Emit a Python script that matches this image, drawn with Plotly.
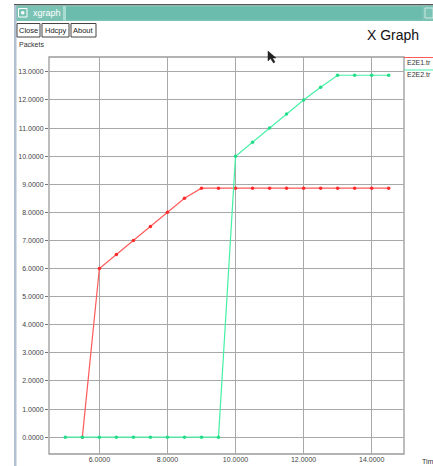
import plotly.graph_objects as go

# Data
e2e1_time = [5.5, 6.0, 6.5, 7.0, 7.5, 8.0, 8.5, 9.0, 9.5, 10.0, 10.5, 11.0, 11.5, 12.0, 12.5, 13.0, 13.5, 14.0, 14.5]
e2e1_packets = [0.0, 6.0, 6.5, 7.0, 7.5, 8.0, 8.5, 8.86, 8.86, 8.86, 8.86, 8.86, 8.86, 8.86, 8.86, 8.86, 8.86, 8.86, 8.86]
e2e2_time = [5.0, 5.5, 6.0, 6.5, 7.0, 7.5, 8.0, 8.5, 9.0, 9.5, 10.0, 10.5, 11.0, 11.5, 12.0, 12.5, 13.0, 13.5, 14.0, 14.5]
e2e2_packets = [0.0, 0.0, 0.0, 0.0, 0.0, 0.0, 0.0, 0.0, 0.0, 0.0, 10.0, 10.5, 11.0, 11.5, 12.0, 12.45, 12.88, 12.88, 12.88, 12.88]
x_ticks = [6, 8, 10, 12, 14]
y_ticks = list(range(0, 14))
series_names = ["E2E1.tr", "E2E2.tr"]

W, H = 433, 466
L, R, T, B = 49, 404, 57, 454


def px(x):
    return (x - L) / (R - L)


def py(y):
    return (B - y) / (B - T)


RED = "#ff5a5a"
GREEN = "#45f0a5"
FONT = "Liberation Sans, Arial, sans-serif"

fig = go.Figure()
fig.add_trace(go.Scatter(x=e2e1_time, y=e2e1_packets, mode="lines+markers", name=series_names[0],
                         line=dict(color=RED, width=1.2), marker=dict(color="#ff2a2a", size=3.5)))
fig.add_trace(go.Scatter(x=e2e2_time, y=e2e2_packets, mode="lines+markers", name=series_names[1],
                         line=dict(color=GREEN, width=1.2), marker=dict(color="#22dd88", size=3.5)))

shapes = []
# window title bar
shapes.append(dict(type="rect", xref="paper", yref="paper", x0=px(14), x1=px(440), y0=py(4), y1=py(5.5),
                   fillcolor="#555555", line=dict(width=0), layer="above"))
shapes.append(dict(type="rect", xref="paper", yref="paper", x0=px(15), x1=px(440), y0=py(5.5), y1=py(21),
                   fillcolor="#79c2b4", line=dict(width=0), layer="above"))
shapes.append(dict(type="rect", xref="paper", yref="paper", x0=px(63), x1=px(66), y0=py(6), y1=py(20.5),
                   fillcolor="#a9ddd2", line=dict(width=0), layer="above"))
shapes.append(dict(type="rect", xref="paper", yref="paper", x0=px(66), x1=px(422), y0=py(7), y1=py(19.5),
                   fillcolor="#6cbcad", line=dict(width=0), layer="above"))
shapes.append(dict(type="rect", xref="paper", yref="paper", x0=px(18.5), x1=px(27), y0=py(8.5), y1=py(17),
                   fillcolor="rgba(0,0,0,0)", line=dict(color="white", width=1), layer="above"))
shapes.append(dict(type="circle", xref="paper", yref="paper", x0=px(21), x1=px(24.5), y0=py(11), y1=py(14.5),
                   fillcolor="white", line=dict(width=0), layer="above"))
shapes.append(dict(type="rect", xref="paper", yref="paper", x0=px(425), x1=px(433), y0=py(8), y1=py(18),
                   fillcolor="rgba(0,0,0,0)", line=dict(color="#cfe9e3", width=1), layer="above"))
# left window border
shapes.append(dict(type="rect", xref="paper", yref="paper", x0=px(14), x1=px(16.5), y0=py(5), y1=py(470),
                   fillcolor="#b3bfd3", line=dict(width=0), layer="above"))
# buttons
for x0, x1 in [(17, 40), (42, 69), (71, 96)]:
    shapes.append(dict(type="rect", xref="paper", yref="paper", x0=px(x0), x1=px(x1), y0=py(23.5), y1=py(37),
                       fillcolor="white", line=dict(color="#444444", width=1), layer="above"))
# legend lines
shapes.append(dict(type="line", xref="paper", yref="paper", x0=px(404), x1=px(440), y0=py(57.5), y1=py(57.5),
                   line=dict(color=RED, width=1.2), layer="above"))
shapes.append(dict(type="line", xref="paper", yref="paper", x0=px(404), x1=px(440), y0=py(70), y1=py(70),
                   line=dict(color=GREEN, width=1.2), layer="above"))
# plot border
shapes.append(dict(type="rect", xref="paper", yref="paper", x0=0, x1=1, y0=0, y1=1,
                   fillcolor="rgba(0,0,0,0)", line=dict(color="#9a9a9a", width=1.3), layer="below"))
# mouse cursor
cx, cy = 268, 51
path = (f"M {px(cx)},{py(cy)} L {px(cx)},{py(cy+10)} L {px(cx+2.5)},{py(cy+7.5)} "
        f"L {px(cx+5.5)},{py(cy+12)} L {px(cx+7)},{py(cy+11)} L {px(cx+4.5)},{py(cy+7)} "
        f"L {px(cx+8)},{py(cy+7)} Z")
shapes.append(dict(type="path", xref="paper", yref="paper", path=path, fillcolor="#222222",
                   line=dict(color="#222222", width=0.5), layer="above"))

annotations = []


def text(x, y, s, size=8, color="#333333", anchor="left", family=FONT):
    annotations.append(dict(xref="paper", yref="paper", x=px(x), y=py(y), text=s, showarrow=False,
                            xanchor=anchor, yanchor="middle", font=dict(size=size, color=color, family=family)))


text(31, 13, "xgraph", size=9, color="white")
text(28.5, 30.5, "Close", size=7.5, color="#222222", anchor="center")
text(55.5, 30.5, "Hdcpy", size=7.5, color="#222222", anchor="center")
text(83.5, 30.5, "About", size=7.5, color="#222222", anchor="center")
text(393, 35, "X Graph", size=14, color="#111111", anchor="center")
text(17, 44.5, "Packets", size=7, color="#333333")
text(405, 62.5, series_names[0], size=7, color="#333333")
text(405, 75, series_names[1], size=7, color="#333333")
text(420, 461, "Time", size=7, color="#333333")

fig.update_layout(
    width=W, height=H,
    margin=dict(l=L, r=W - R, t=T, b=H - B, pad=0),
    paper_bgcolor="white", plot_bgcolor="white",
    showlegend=False,
    shapes=shapes, annotations=annotations,
    xaxis=dict(range=[4.52, 14.95], tickvals=x_ticks, ticktext=[f"{v:.4f}" for v in x_ticks],
               showgrid=True, gridcolor="#a8a8a8", gridwidth=1.2, zeroline=False, automargin=False,
               ticks="", tickfont=dict(size=7, color="#444444", family=FONT), showline=False),
    yaxis=dict(range=[-0.6, 13.53], tickvals=y_ticks, ticktext=[f"{v:.4f}" for v in y_ticks],
               showgrid=True, gridcolor="#a8a8a8", gridwidth=1.2, zeroline=False, automargin=False,
               ticks="outside", ticklen=3, tickcolor="#777777",
               tickfont=dict(size=7, color="#444444", family=FONT), showline=False),
)

fig.write_html("out.html", config={"displayModeBar": False},
               post_script="document.body.style.margin='0';document.body.style.overflow='hidden';")
